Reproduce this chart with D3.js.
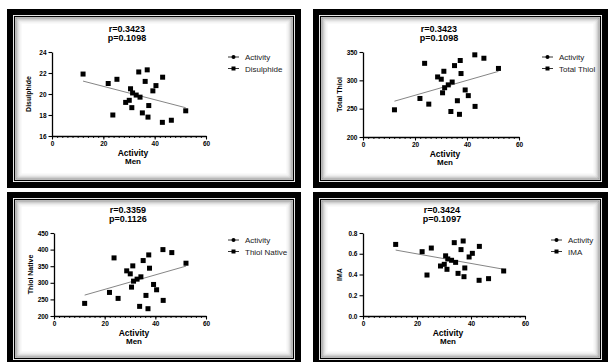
<!DOCTYPE html>
<html>
<head>
<meta charset="utf-8">
<script src="https://cdn.jsdelivr.net/npm/d3@7"></script>
<style>
  body { margin: 0; background: #fff; }
  svg { display: block; font-family: "Liberation Sans", Arial, sans-serif; }
</style>
</head>
<body>
<div id="chart"></div>
<script>
// activity score (x) shared by every panel
const activity = [12.1, 21.9, 23.7, 25.3, 28.7, 30.1, 30.6, 31.1, 31.4, 32.8, 33.8, 34.3,
  35.2, 36.3, 37.1, 37.4, 37.7, 39.3, 40.5, 43.0, 43.1, 46.5, 52.1];
const disulphide = [21.9, 21.0, 18.0, 21.4, 19.2, 19.4, 20.5, 18.7, 20.1, 19.9, 22.1, 19.7,
  18.2, 21.2, 22.3, 17.8, 18.9, 20.3, 20.8, 17.3, 21.6, 17.5, 18.4];
const totalThiol = [248, 268, 330, 258, 306, 302, 278, 316, 287, 292, 245, 297,
  326, 264, 240, 335, 312, 283, 273, 345, 254, 339, 321];
const thiolNative = [238, 271, 375, 253, 336, 327, 287, 351, 305, 311, 229, 318,
  367, 262, 222, 384, 344, 295, 279, 400, 247, 391, 359];
const ima = [0.69, 0.62, 0.395, 0.655, 0.482, 0.498, 0.58, 0.45, 0.55, 0.537, 0.707, 0.517,
  0.411, 0.64, 0.723, 0.379, 0.463, 0.569, 0.604, 0.344, 0.671, 0.36, 0.434];

const xTicks = [0, 20, 40, 60];
const titles = [["r=0.3423", "p=0.1098"], ["r=0.3423", "p=0.1098"], ["r=0.3359", "p=0.1126"], ["r=0.3424", "p=0.1097"]];
const names = ["Disulphide", "Total Thiol", "Thiol Native", "IMA"];
const yTicks = [[16, 18, 20, 22, 24], [200, 250, 300, 350], [200, 250, 300, 350, 400, 450], [0.0, 0.2, 0.4, 0.6, 0.8]];
const series = [disulphide, totalThiol, thiolNative, ima];

// layout of each panel (frame box, plot box, legend anchor)
const layout = [
  { frame: [7, 9, 301, 188], plot: [52, 52, 206, 136], legend: [228, 57], fmt: d3.format("d") },
  { frame: [313, 9, 608, 188], plot: [363, 52, 519, 137], legend: [542, 57], fmt: d3.format("d") },
  { frame: [7, 192, 301, 366], plot: [54, 233, 206, 316], legend: [228, 240], fmt: d3.format("d") },
  { frame: [313, 192, 608, 366], plot: [363, 233, 525, 316], legend: [551, 240], fmt: d3.format(".1f") }
];

const svg = d3.select("#chart").append("svg")
  .attr("width", 609)
  .attr("height", 362);

layout.forEach((L, i) => drawPanel(L, i));

function drawPanel(L, i) {
  const [fx0, fy0, fx1, fy1] = L.frame;
  const g = svg.append("g");

  // frame: thick black, white gap, thin black, soft inner shadow
  g.append("rect").attr("x", fx0).attr("y", fy0).attr("width", fx1 - fx0).attr("height", fy1 - fy0).attr("fill", "#000");
  g.append("rect").attr("x", fx0 + 6).attr("y", fy0 + 6).attr("width", fx1 - fx0 - 12).attr("height", fy1 - fy0 - 12).attr("fill", "#fff");
  g.append("rect").attr("x", fx0 + 7.5).attr("y", fy0 + 7.5).attr("width", fx1 - fx0 - 15).attr("height", fy1 - fy0 - 15)
    .attr("fill", "none").attr("stroke", "#000").attr("stroke-width", 1.2);
  const shades = ["#8a8a8a", "#adadad", "#c8c8c8", "#dcdcdc", "#ebebeb", "#f5f5f5"];
  shades.forEach((c, k) => {
    const d = 9 + k;
    g.append("rect").attr("x", fx0 + d).attr("y", fy0 + d)
      .attr("width", fx1 - fx0 - 2 * d).attr("height", fy1 - fy0 - 2 * d)
      .attr("fill", "none").attr("stroke", c).attr("stroke-width", 1);
  });

  const [px0, py0, px1, py1] = L.plot;
  const yv = yTicks[i];
  const x = d3.scaleLinear().domain([0, 60]).range([px0, px1]);
  const y = d3.scaleLinear().domain([yv[0], yv[yv.length - 1]]).range([py1, py0]);

  // minor x ticks
  g.append("g")
    .attr("transform", `translate(0,${py1})`)
    .call(d3.axisBottom(x).tickValues(d3.range(0, 61, 2)).tickSize(2).tickFormat(""))
    .call(a => a.select(".domain").remove())
    .call(a => a.selectAll("line").attr("stroke", "#000").attr("stroke-width", 0.9));

  const xAxis = g.append("g")
    .attr("transform", `translate(0,${py1})`)
    .call(d3.axisBottom(x).tickValues(xTicks).tickSize(3.5).tickSizeOuter(0).tickPadding(2));
  const yAxis = g.append("g")
    .attr("transform", `translate(${px0},0)`)
    .call(d3.axisLeft(y).tickValues(yv).tickSize(3.5).tickSizeOuter(0).tickPadding(2).tickFormat(L.fmt));
  [xAxis, yAxis].forEach(a => {
    a.select(".domain").attr("stroke", "#000").attr("stroke-width", 1.3);
    a.selectAll(".tick line").attr("stroke", "#000").attr("stroke-width", 1.1);
    a.selectAll("text").attr("fill", "#000").attr("font-size", 6.5).attr("font-weight", "bold")
      .attr("font-family", "Liberation Sans, Arial, sans-serif");
  });

  // regression line over the data range
  const vals = series[i];
  const mx = d3.mean(activity), my = d3.mean(vals);
  const slope = d3.sum(activity, (a, k) => (a - mx) * (vals[k] - my)) / d3.sum(activity, a => (a - mx) ** 2);
  const icpt = my - slope * mx;
  const ext = d3.extent(activity);
  g.append("line")
    .attr("x1", x(ext[0])).attr("y1", y(icpt + slope * ext[0]))
    .attr("x2", x(ext[1])).attr("y2", y(icpt + slope * ext[1]))
    .attr("stroke", "#777").attr("stroke-width", 0.9);

  // points
  g.selectAll("rect.pt")
    .data(activity)
    .join("rect")
    .attr("class", "pt")
    .attr("x", (d) => x(d) - 2.5)
    .attr("y", (d, k) => y(vals[k]) - 2.5)
    .attr("width", 5).attr("height", 5)
    .attr("fill", "#000");

  // title
  const cx = (px0 + px1) / 2 - 2;
  g.append("text").attr("x", cx).attr("y", py0 - 20).attr("text-anchor", "middle")
    .attr("font-size", 9).attr("font-weight", "bold").text(titles[i][0]);
  g.append("text").attr("x", cx).attr("y", py0 - 11).attr("text-anchor", "middle")
    .attr("font-size", 9).attr("font-weight", "bold").text(titles[i][1]);

  // axis titles
  g.append("text").attr("x", (px0 + px1) / 2 + 4).attr("y", py1 + 20).attr("text-anchor", "middle")
    .attr("font-size", 8.5).attr("font-weight", "bold").text("Activity");
  g.append("text").attr("x", (px0 + px1) / 2 + 4).attr("y", py1 + 28).attr("text-anchor", "middle")
    .attr("font-size", 8).attr("font-weight", "bold").text("Men");
  g.append("text")
    .attr("transform", `translate(${px0 - 21},${(py0 + py1) / 2}) rotate(-90)`)
    .attr("text-anchor", "middle").attr("font-size", 7).attr("font-weight", "bold").text(names[i]);

  // legend
  const [lx, ly] = L.legend;
  [["Activity", "circle"], [names[i], "square"]].forEach(([label, shape], k) => {
    const yy = ly + k * 11.5;
    g.append("line").attr("x1", lx).attr("x2", lx + 11).attr("y1", yy).attr("y2", yy)
      .attr("stroke", "#000").attr("stroke-width", 0.8);
    if (shape === "circle") {
      g.append("circle").attr("cx", lx + 5.5).attr("cy", yy).attr("r", 2).attr("fill", "#000");
    } else {
      g.append("rect").attr("x", lx + 3.5).attr("y", yy - 2).attr("width", 4).attr("height", 4).attr("fill", "#000");
    }
    g.append("text").attr("x", lx + 17).attr("y", yy + 3).attr("font-size", 8).attr("fill", "#222").text(label);
  });
}
</script>
</body>
</html>
